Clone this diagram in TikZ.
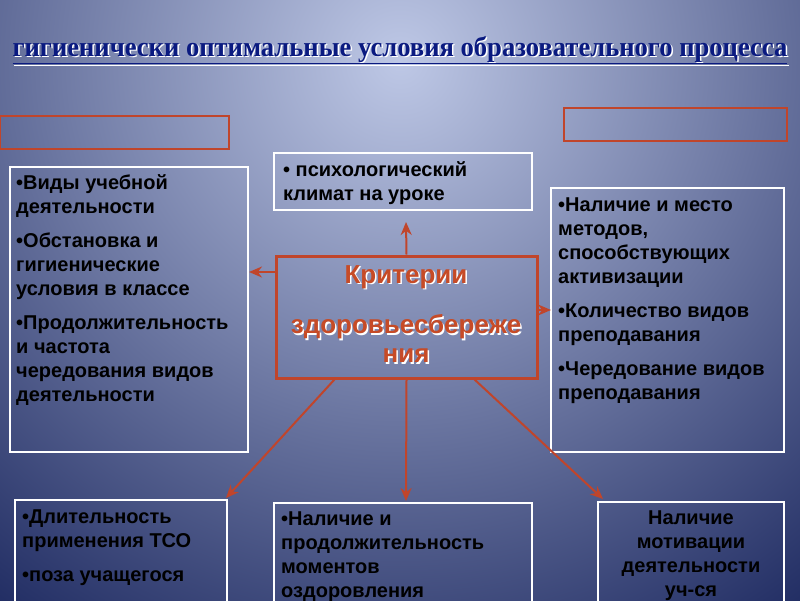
\documentclass[tikz,border=0pt]{standalone}
\usepackage{fontspec}
\setmainfont{Liberation Sans}
\newfontfamily\titlefont{Liberation Serif}
\usetikzlibrary{arrows.meta,shadows}
\definecolor{redc}{HTML}{C0452B}
\definecolor{navy}{HTML}{0A1A80}
\tikzset{
  wbox/.style={draw=white,line width=1.2pt},
  rbox/.style={draw=redc,line width=1.5pt},
  txt/.style={anchor=north west,align=left,font=\bfseries\fontsize{20}{24}\selectfont,text=black,inner sep=0pt},
  ar/.style={draw=redc,line width=2pt,-{Stealth[length=13pt,width=11pt]}},
  ctxt/.style={font=\bfseries\fontsize{26}{30}\selectfont},
}
\begin{document}
\begin{tikzpicture}[x=1pt,y=-1pt]
\useasboundingbox (0,0) rectangle (800,600);
\begin{scope}
\clip (0,0) rectangle (800,600);
\shade[inner color={rgb,255:red,190;green,200;blue,230},outer color={rgb,255:red,28;green,40;blue,95}] (400,60) circle (700);
\end{scope}
% title
\node[text=white,font=\titlefont\bfseries\fontsize{28}{30}\selectfont,xscale=0.95] at (401.5,51.5) {\underline{гигиенически оптимальные условия образовательного процесса}};
\node (title) [text=navy,font=\titlefont\bfseries\fontsize{28}{30}\selectfont,xscale=0.95] at (400,50) {\underline{гигиенически оптимальные условия образовательного процесса}};
% empty red boxes
\draw[rbox] (0,116) rectangle (229,149);
\draw[rbox] (564,108) rectangle (787,141);
% boxes
\draw[wbox] (10,167) rectangle (248,452);
\node[txt] (lt) at (16,174) {•Виды учебной\\деятельности\\[10pt]•Обстановка и\\гигиенические\\условия в классе\\[10pt]•Продолжительность\\и частота\\чередования видов\\деятельности};
\draw[wbox] (274,153) rectangle (532,210);
\node[txt] (tt) at (283,161) {• психологический\\климат на уроке};
\draw[wbox] (551,188) rectangle (784,452);
\node[txt] (rt) at (558,198) {•Наличие и место\\методов,\\способствующих\\активизации\\[10pt]•Количество видов\\преподавания\\[10pt]•Чередование видов\\преподавания};
\draw[wbox] (15,500) rectangle (227,605);
\node[txt] (bl) at (22,510) {•Длительность\\применения ТСО\\[10pt]•поза учащегося};
\draw[wbox] (274,503) rectangle (532,605);
\node[txt] (bc) at (281,512) {•Наличие и\\продолжительность\\моментов\\оздоровления};
\draw[wbox] (598,502) rectangle (784,605);
\node[txt,anchor=north,align=center] (br) at (691,511) {Наличие\\мотивации\\деятельности\\уч-ся};
% center
\node[draw=redc,line width=3pt,minimum width=261pt,minimum height=122pt,inner sep=0pt] (c) at (406.5,317) {};
\foreach \t/\y in {Критерии/277,здоровьесбереже/327,ния/356}{
  \node[ctxt,text=white] at (407.5,\y+1.5) {\t};
  \node[ctxt,text=redc!90!orange] at (406,\y) {\t};
}
% arrows
\coordinate (u1) at (406,222);
\coordinate (l1) at (249,272);
\coordinate (r1) at (551,310);
\draw[ar] (c.north) -- (u1);
\draw[ar] (c.west |- l1) -- (l1);
\draw[ar] (c.east |- r1) -- (r1);
\draw[ar] (c.south) -- (406,501);
\draw[ar] ([xshift=-72pt]c.south) -- (226,498);
\draw[ar] ([xshift=68pt]c.south) -- (603,499);
\end{tikzpicture}
\end{document}
